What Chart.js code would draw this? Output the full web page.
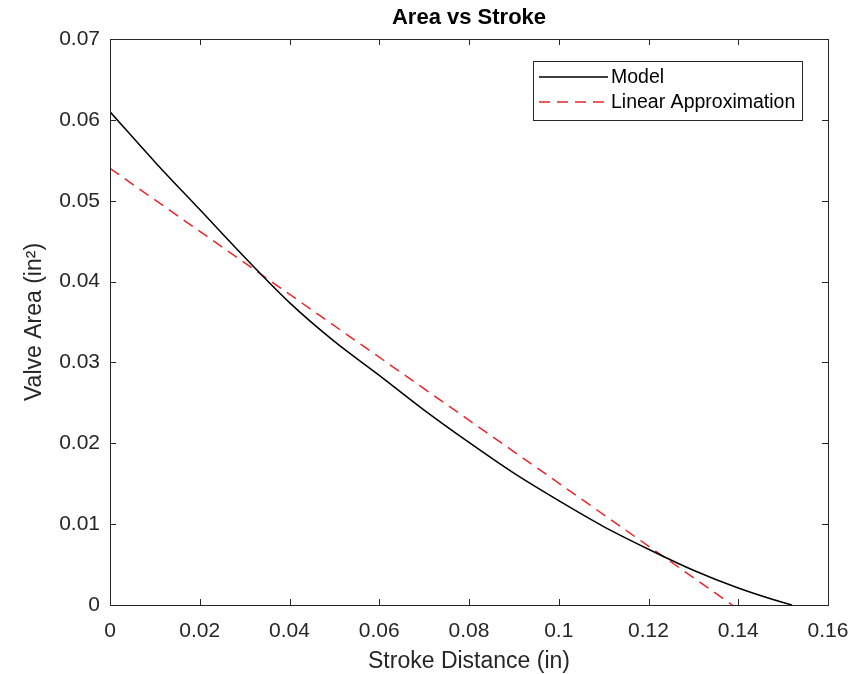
<!DOCTYPE html>
<html>
<head>
<meta charset="utf-8">
<script src="https://cdn.jsdelivr.net/npm/chart.js@4/dist/chart.umd.min.js"></script>
<style>
  html, body { margin: 0; padding: 0; background: #fff; }
  #wrap { width: 863px; height: 674px; }
</style>
</head>
<body>
<div id="wrap"><canvas id="c" width="863" height="674"></canvas></div>
<script>
// ---- Data ----
const modelX = [0, 0.01, 0.02, 0.03, 0.04, 0.05, 0.06, 0.07, 0.08, 0.09, 0.10, 0.11, 0.12, 0.13, 0.14, 0.15, 0.152];
const modelY = [0.0610, 0.0548, 0.0489, 0.0430, 0.0374, 0.0326, 0.0284, 0.0241, 0.0201, 0.0163, 0.0129, 0.0097, 0.0069, 0.0043, 0.0021, 0.0003, 0];
const linearX = [0, 0.1387];
const linearY = [0.054, 0];
const xTicks = [0, 0.02, 0.04, 0.06, 0.08, 0.1, 0.12, 0.14, 0.16];
const yTicks = [0, 0.01, 0.02, 0.03, 0.04, 0.05, 0.06, 0.07];
const seriesNames = ['Model', 'Linear Approximation'];
const titleText = 'Area vs Stroke';
const xTitle = 'Stroke Distance (in)';
const yTitle = 'Valve Area (in\u00B2)';

const AXIS = '#262626';
const FONT = "'Liberation Sans', Arial, Helvetica, sans-serif";

const toPts = (xs, ys) => xs.map((x, i) => ({ x: x, y: ys[i] }));

const framePlugin = {
  id: 'frame',
  afterDatasetsDraw(chart) {
    const { ctx, chartArea: a, scales } = chart;
    ctx.save();
    ctx.strokeStyle = AXIS;
    ctx.lineWidth = 1;
    ctx.strokeRect(Math.round(a.left) + 0.5, Math.round(a.top) + 0.5,
                   Math.round(a.right - a.left), Math.round(a.bottom - a.top));
    const tl = 6;
    ctx.beginPath();
    xTicks.forEach(v => {
      const px = Math.round(scales.x.getPixelForValue(v)) + 0.5;
      ctx.moveTo(px, a.bottom); ctx.lineTo(px, a.bottom - tl);
      ctx.moveTo(px, a.top); ctx.lineTo(px, a.top + tl);
    });
    yTicks.forEach(v => {
      const py = Math.round(scales.y.getPixelForValue(v)) + 0.5;
      ctx.moveTo(a.left, py); ctx.lineTo(a.left + tl, py);
      ctx.moveTo(a.right, py); ctx.lineTo(a.right - tl, py);
    });
    ctx.stroke();

    // Title centred over the axes
    ctx.fillStyle = '#000';
    ctx.font = 'bold 22px ' + FONT;
    ctx.textAlign = 'center';
    ctx.textBaseline = 'middle';
    ctx.fillText(titleText, (a.left + a.right) / 2, 18);

    // Legend box (inside top-right of axes)
    const bx = 533.5, by = 61.5, bw = 269, bh = 59;
    ctx.fillStyle = '#fff';
    ctx.fillRect(bx, by, bw, bh);
    ctx.strokeStyle = AXIS;
    ctx.strokeRect(bx, by, bw, bh);
    const rows = [77, 102];
    chart.data.datasets.forEach((ds, i) => {
      ctx.beginPath();
      ctx.strokeStyle = ds.borderColor;
      ctx.lineWidth = ds.borderWidth;
      ctx.setLineDash(ds.borderDash || []);
      ctx.moveTo(539, rows[i]); ctx.lineTo(608, rows[i]);
      ctx.stroke();
      ctx.setLineDash([]);
      ctx.fillStyle = '#000';
      ctx.font = '19.5px ' + FONT;
      ctx.textBaseline = 'middle';
      ctx.textAlign = 'left';
      ctx.fillText(ds.label, 611, rows[i] + 1);
    });
    ctx.restore();
  }
};

new Chart(document.getElementById('c'), {
  type: 'scatter',
  data: {
    datasets: [
      {
        label: seriesNames[0],
        data: toPts(modelX, modelY),
        showLine: true,
        borderColor: '#000000',
        borderWidth: 1.5,
        pointRadius: 0,
        cubicInterpolationMode: 'monotone',
        fill: false
      },
      {
        label: seriesNames[1],
        data: toPts(linearX, linearY),
        showLine: true,
        borderColor: '#e8262b',
        borderWidth: 1.5,
        borderDash: [11, 7],
        pointRadius: 0,
        fill: false
      }
    ]
  },
  options: {
    responsive: false,
    animation: false,
    layout: { padding: { top: 39, left: 0, right: 35, bottom: 0 } },
    plugins: {
      legend: { display: false },
      tooltip: { enabled: false },
      title: { display: false }
    },
    scales: {
      x: {
        type: 'linear',
        min: 0, max: 0.16,
        afterBuildTicks(s) { s.ticks = xTicks.map(v => ({ value: v })); },
        afterFit(s) { s.height = 69; },
        grid: { display: false, drawTicks: false },
        border: { display: false },
        ticks: {
          color: AXIS,
          font: { family: FONT, size: 21 },
          padding: 14,
          maxRotation: 0,
          callback: v => String(+v.toFixed(2))
        },
        title: {
          display: true,
          text: xTitle,
          color: AXIS,
          font: { family: FONT, size: 23, lineHeight: 1 },
          padding: { top: 0, bottom: 1 }
        }
      },
      y: {
        type: 'linear',
        min: 0, max: 0.07,
        afterBuildTicks(s) { s.ticks = yTicks.map(v => ({ value: v })); },
        afterFit(s) { s.width = 110; },
        grid: { display: false, drawTicks: false },
        border: { display: false },
        ticks: {
          color: AXIS,
          font: { family: FONT, size: 21 },
          padding: 10,
          callback: v => String(+v.toFixed(2))
        },
        title: {
          display: true,
          text: yTitle,
          color: AXIS,
          font: { family: FONT, size: 23, lineHeight: 1 },
          padding: { top: 23, bottom: 0 }
        }
      }
    }
  },
  plugins: [framePlugin]
});
</script>
</body>
</html>
